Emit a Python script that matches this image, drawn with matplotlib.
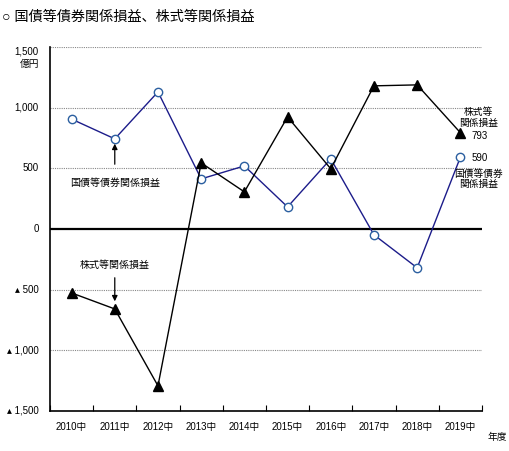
import matplotlib.pyplot as plt

plt.rcParams['font.family'] = ['Liberation Sans', 'DejaVu Sans', 'Noto Sans CJK JP']

years = ['2010中', '2011中', '2012中', '2013中', '2014中', '2015中', '2016中', '2017中', '2018中', '2019中']
bond = [905, 742, 1129, 412, 519, 181, 577, -49, -321, 590]
stock = [-528, -660, -1294, 544, 305, 923, 495, 1179, 1187, 793]
yticks = [1500, 1000, 500, 0, -500, -1000, -1500]
ylabels = ['1,500\n億円', '1,000', '500', '0', '▴ 500', '▴ 1,000', '▴ 1,500']

fig = plt.figure(figsize=(5.1, 4.51), dpi=100)
ax = fig.add_axes([0.098, 0.089, 0.847, 0.807])

x = list(range(len(years)))
for y in [1500, 1000, 500, -500, -1000]:
    ax.axhline(y, color='#888888', lw=0.8, ls=(0, (1, 1)), zorder=1)
ax.axhline(0, color='black', lw=1.6, zorder=2)

ax.plot(x, bond, color='#1c1c8a', lw=1.0, marker='o', ms=6, mfc='white',
        mec='#2b5fa0', mew=1.0, zorder=3)
ax.plot(x, stock, color='black', lw=1.0, marker='^', ms=7, zorder=4)

ax.set_xlim(-0.5, 9.5)
ax.set_ylim(-1500, 1500)
ax.set_xticks(x)
ax.set_xticklabels(years, fontsize=7)
ax.set_xticks([i + 0.5 for i in range(-1, 10)], minor=True)
ax.tick_params(axis='x', which='major', length=0, pad=8)
ax.tick_params(axis='x', which='minor', direction='in', length=4, width=0.8)
ax.set_yticks(yticks)
ax.set_yticklabels(ylabels, fontsize=7, ha='right', va='center')
ax.tick_params(axis='y', length=0, pad=8)
ax.get_yticklabels()[0].set_va('top')
ax.spines['right'].set_visible(False)
ax.spines['top'].set_visible(False)
ax.spines['left'].set_linewidth(1.2)
ax.spines['bottom'].set_linewidth(1.2)

ax.annotate('', xy=(1, 725), xytext=(1, 510),
            arrowprops=dict(arrowstyle='-|>', color='black', lw=0.9, mutation_scale=8))
ax.text(1, 380, '国債等債券関係損益', fontsize=7.2, ha='center', va='center')
ax.annotate('', xy=(1, -620), xytext=(1, -380),
            arrowprops=dict(arrowstyle='-|>', color='black', lw=0.9, mutation_scale=8))
ax.text(1, -300, '株式等関係損益', fontsize=7.2, ha='center', va='center')

ax.text(9.42, 915, '株式等\n関係損益', fontsize=7, ha='center', va='center', linespacing=1.1)
ax.text(9.25, 765, '793', fontsize=7, ha='left', va='center')
ax.text(9.25, 585, '590', fontsize=7, ha='left', va='center')
ax.text(9.42, 412, '国債等債券\n関係損益', fontsize=7, ha='center', va='center', linespacing=1.1)

fig.text(0.004, 0.962, '○ 国債等債券関係損益、株式等関係損益', fontsize=10.2, ha='left', va='center')
fig.text(0.955, 0.03, '年度', fontsize=7, ha='left', va='center')

fig.savefig('out.png', dpi=100)
